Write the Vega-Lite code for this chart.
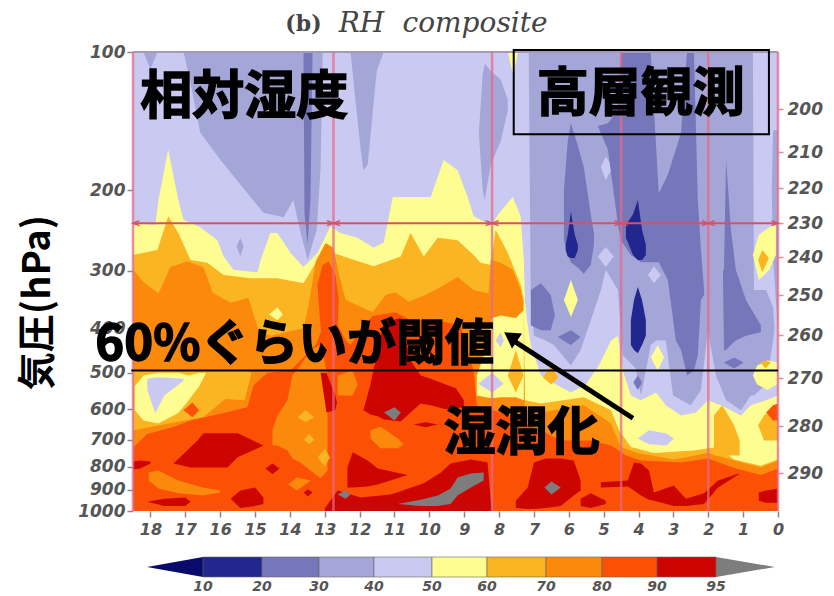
{"$schema":"https://vega.github.io/schema/vega-lite/v6.json","width":645,"height":459,"autosize":"none","padding":{"left":133,"top":52,"right":56,"bottom":85},"background":"white","view":{"stroke":null},"resolve":{"scale":{"x":"independent","y":"independent"},"axis":{"x":"independent","y":"independent"}},
"layer":[
{"layer":[
{"mark":{"type":"area","interpolate":"linear"},
"data":{"values":[
{"s":"base","b":"40","t":18.5,"a":100,"z":1000},{"s":"base","b":"40","t":0,"a":100,"z":1000},
{"s":"b1","b":"30","t":18.2,"a":100,"z":100},{"s":"b1","b":"30","t":18.0,"a":100,"z":109},{"s":"b1","b":"30","t":17.8,"a":100,"z":100},
{"s":"b2","b":"30","t":17.05,"a":100,"z":100},{"s":"b2","b":"30","t":16.85,"a":100,"z":117},{"s":"b2","b":"30","t":16.57,"a":100,"z":150},{"s":"b2","b":"30","t":15.99,"a":100,"z":172},{"s":"b2","b":"30","t":14.76,"a":100,"z":224},{"s":"b2","b":"30","t":14.18,"a":100,"z":229},{"s":"b2","b":"30","t":13.9,"a":100,"z":210},{"s":"b2","b":"30","t":13.7,"a":100,"z":246},{"s":"b2","b":"30","t":13.49,"a":100,"z":284},{"s":"b2","b":"30","t":13.23,"a":100,"z":244},{"s":"b2","b":"30","t":13.12,"a":100,"z":178},{"s":"b2","b":"30","t":13.06,"a":100,"z":100},
{"s":"b3","b":"30","t":15.53,"a":265,"z":265},{"s":"b3","b":"30","t":15.42,"a":254,"z":279},{"s":"b3","b":"30","t":15.33,"a":265,"z":265},
{"s":"b4","b":"30","t":12.26,"a":100,"z":100},{"s":"b4","b":"30","t":12.12,"a":100,"z":127},{"s":"b4","b":"30","t":11.97,"a":100,"z":163},{"s":"b4","b":"30","t":11.89,"a":100,"z":181},{"s":"b4","b":"30","t":11.77,"a":100,"z":176},{"s":"b4","b":"30","t":11.63,"a":100,"z":137},{"s":"b4","b":"30","t":11.51,"a":100,"z":110},{"s":"b4","b":"30","t":11.31,"a":100,"z":100},
{"s":"b5","b":"30","t":8.58,"a":150,"z":150},{"s":"b5","b":"30","t":8.47,"a":112,"z":200},{"s":"b5","b":"30","t":8.41,"a":106,"z":210},{"s":"b5","b":"30","t":8.24,"a":110,"z":176},{"s":"b5","b":"30","t":7.95,"a":115,"z":156},{"s":"b5","b":"30","t":7.75,"a":127,"z":134},
{"s":"block","b":"30","t":7.15,"a":100,"z":100},{"s":"block","b":"30","t":7.09,"a":100,"z":347},{"s":"block","b":"30","t":7.0,"a":100,"z":415},{"s":"block","b":"30","t":6.66,"a":100,"z":425},{"s":"block","b":"30","t":6.43,"a":100,"z":435},{"s":"block","b":"30","t":5.94,"a":100,"z":482},{"s":"block","b":"30","t":5.66,"a":100,"z":446},{"s":"block","b":"30","t":5.37,"a":100,"z":384},{"s":"block","b":"30","t":5.08,"a":100,"z":330},{"s":"block","b":"30","t":4.94,"a":100,"z":298},{"s":"block","b":"30","t":4.59,"a":100,"z":330},{"s":"block","b":"30","t":4.45,"a":100,"z":458},{"s":"block","b":"30","t":4.08,"a":100,"z":489},{"s":"block","b":"30","t":3.93,"a":100,"z":560},{"s":"block","b":"30","t":3.65,"a":100,"z":435},{"s":"block","b":"30","t":3.5,"a":100,"z":425},{"s":"block","b":"30","t":3.22,"a":100,"z":425},{"s":"block","b":"30","t":3.01,"a":100,"z":560},{"s":"block","b":"30","t":2.5,"a":100,"z":588},{"s":"block","b":"30","t":2.21,"a":100,"z":545},{"s":"block","b":"30","t":2.01,"a":100,"z":404},{"s":"block","b":"30","t":1.78,"a":100,"z":507},{"s":"block","b":"30","t":1.49,"a":100,"z":574},{"s":"block","b":"30","t":1.06,"a":100,"z":603},{"s":"block","b":"30","t":0.78,"a":100,"z":560},{"s":"block","b":"30","t":0.72,"a":100,"z":560},{"s":"block","b":"30","t":0.69,"a":330,"z":560},{"s":"block","b":"30","t":0.34,"a":330,"z":530},{"s":"block","b":"30","t":0.14,"a":360,"z":425},{"s":"block","b":"30","t":0.1,"a":400,"z":400},
{"s":"b6","b":"30","t":0.18,"a":200,"z":200},{"s":"b6","b":"30","t":0.14,"a":148,"z":284},{"s":"b6","b":"30","t":0,"a":148,"z":404},
{"s":"l1","b":"40","t":5.08,"a":178,"z":178},{"s":"l1","b":"40","t":4.94,"a":169,"z":190},{"s":"l1","b":"40","t":4.79,"a":176,"z":181},
{"s":"l2","b":"40","t":5.17,"a":279,"z":279},{"s":"l2","b":"40","t":4.94,"a":266,"z":294},{"s":"l2","b":"40","t":4.71,"a":279,"z":279},
{"s":"l3","b":"40","t":3.73,"a":306,"z":306},{"s":"l3","b":"40","t":3.56,"a":293,"z":319},{"s":"l3","b":"40","t":3.36,"a":306,"z":306},
{"s":"d1","b":"20","t":13.61,"a":100,"z":100},{"s":"d1","b":"20","t":13.58,"a":100,"z":226},{"s":"d1","b":"20","t":13.49,"a":100,"z":263},{"s":"d1","b":"20","t":13.41,"a":100,"z":210},{"s":"d1","b":"20","t":13.35,"a":100,"z":100},
{"s":"d2","b":"20","t":6.14,"a":200,"z":257},{"s":"d2","b":"20","t":6.03,"a":156,"z":277},{"s":"d2","b":"20","t":5.94,"a":143,"z":287},{"s":"d2","b":"20","t":5.74,"a":160,"z":295},{"s":"d2","b":"20","t":5.57,"a":178,"z":304},{"s":"d2","b":"20","t":5.37,"a":226,"z":291},{"s":"d2","b":"20","t":5.28,"a":248,"z":263},
{"s":"d3","b":"20","t":5.17,"a":145,"z":145},{"s":"d3","b":"20","t":4.88,"a":143,"z":163},{"s":"d3","b":"20","t":4.59,"a":134,"z":238},{"s":"d3","b":"20","t":4.51,"a":100,"z":257},{"s":"d3","b":"20","t":4.22,"a":100,"z":277},{"s":"d3","b":"20","t":3.93,"a":100,"z":287},{"s":"d3","b":"20","t":3.65,"a":100,"z":287},{"s":"d3","b":"20","t":3.53,"a":145,"z":287},{"s":"d3","b":"20","t":3.42,"a":203,"z":287},{"s":"d3","b":"20","t":3.16,"a":185,"z":314},{"s":"d3","b":"20","t":2.93,"a":163,"z":425},{"s":"d3","b":"20","t":2.78,"a":150,"z":446},{"s":"d3","b":"20","t":2.61,"a":100,"z":507},{"s":"d3","b":"20","t":2.41,"a":100,"z":494},{"s":"d3","b":"20","t":2.3,"a":210,"z":458},{"s":"d3","b":"20","t":2.21,"a":270,"z":347},{"s":"d3","b":"20","t":2.12,"a":330,"z":338},
{"s":"d4","b":"20","t":1.58,"a":300,"z":300},{"s":"d4","b":"20","t":1.55,"a":298,"z":446},{"s":"d4","b":"20","t":1.49,"a":172,"z":446},{"s":"d4","b":"20","t":1.35,"a":244,"z":435},{"s":"d4","b":"20","t":1.21,"a":298,"z":425},{"s":"d4","b":"20","t":0.92,"a":347,"z":415},{"s":"d4","b":"20","t":0.49,"a":394,"z":408},
{"s":"d5","b":"20","t":1.55,"a":475,"z":475},{"s":"d5","b":"20","t":1.26,"a":463,"z":489},{"s":"d5","b":"20","t":0.98,"a":475,"z":475},
{"s":"d6","b":"20","t":7.09,"a":330,"z":394},{"s":"d6","b":"20","t":6.8,"a":319,"z":404},{"s":"d6","b":"20","t":6.52,"a":338,"z":404},{"s":"d6","b":"20","t":6.4,"a":375,"z":375},
{"s":"d7","b":"20","t":6.32,"a":418,"z":418},{"s":"d7","b":"20","t":5.94,"a":404,"z":435},{"s":"d7","b":"20","t":5.66,"a":418,"z":418},
{"s":"d8","b":"20","t":4.15,"a":525,"z":525},{"s":"d8","b":"20","t":4.02,"a":507,"z":545},{"s":"d8","b":"20","t":3.9,"a":525,"z":525},
{"s":"n1","b":"10","t":6.09,"a":263,"z":270},{"s":"n1","b":"10","t":6.03,"a":250,"z":279},{"s":"n1","b":"10","t":5.94,"a":223,"z":281},{"s":"n1","b":"10","t":5.83,"a":250,"z":281},{"s":"n1","b":"10","t":5.74,"a":263,"z":270},
{"s":"n2","b":"10","t":4.36,"a":238,"z":254},{"s":"n2","b":"10","t":4.16,"a":226,"z":277},{"s":"n2","b":"10","t":4.02,"a":210,"z":284},{"s":"n2","b":"10","t":3.9,"a":244,"z":284},{"s":"n2","b":"10","t":3.79,"a":263,"z":277},
{"s":"n3","b":"10","t":4.22,"a":384,"z":435},{"s":"n3","b":"10","t":4.13,"a":347,"z":446},{"s":"n3","b":"10","t":4.02,"a":325,"z":453},{"s":"n3","b":"10","t":3.9,"a":347,"z":435},{"s":"n3","b":"10","t":3.79,"a":384,"z":415},
{"s":"yt","b":"50","t":7.75,"a":100,"z":100},{"s":"yt","b":"50","t":7.6,"a":100,"z":112},{"s":"yt","b":"50","t":7.45,"a":100,"z":100},
{"s":"y","b":"50","t":18.5,"a":236,"z":1000},{"s":"y","b":"50","t":17.86,"a":238,"z":1000},{"s":"y","b":"50","t":17.77,"a":210,"z":1000},{"s":"y","b":"50","t":17.49,"a":163,"z":1000},{"s":"y","b":"50","t":17.2,"a":210,"z":1000},{"s":"y","b":"50","t":17.05,"a":232,"z":1000},{"s":"y","b":"50","t":16.57,"a":241,"z":1000},{"s":"y","b":"50","t":16.08,"a":257,"z":1000},{"s":"y","b":"50","t":15.9,"a":279,"z":1000},{"s":"y","b":"50","t":15.62,"a":298,"z":1000},{"s":"y","b":"50","t":14.93,"a":302,"z":1000},{"s":"y","b":"50","t":14.84,"a":284,"z":1000},{"s":"y","b":"50","t":14.56,"a":248,"z":1000},{"s":"y","b":"50","t":14.36,"a":248,"z":1000},{"s":"y","b":"50","t":13.98,"a":274,"z":1000},{"s":"y","b":"50","t":13.61,"a":294,"z":1000},{"s":"y","b":"50","t":13.41,"a":284,"z":1000},{"s":"y","b":"50","t":13.21,"a":274,"z":1000},{"s":"y","b":"50","t":12.84,"a":240,"z":1000},{"s":"y","b":"50","t":12.55,"a":248,"z":1000},{"s":"y","b":"50","t":12.06,"a":254,"z":1000},{"s":"y","b":"50","t":11.6,"a":267,"z":1000},{"s":"y","b":"50","t":11.31,"a":260,"z":1000},{"s":"y","b":"50","t":11.05,"a":207,"z":1000},{"s":"y","b":"50","t":9.96,"a":207,"z":1000},{"s":"y","b":"50","t":9.59,"a":172,"z":1000},{"s":"y","b":"50","t":9.19,"a":181,"z":1000},{"s":"y","b":"50","t":8.9,"a":207,"z":1000},{"s":"y","b":"50","t":8.73,"a":228,"z":1000},{"s":"y","b":"50","t":8.44,"a":234,"z":1000},{"s":"y","b":"50","t":8.21,"a":238,"z":1000},{"s":"y","b":"50","t":8.01,"a":225,"z":1000},{"s":"y","b":"50","t":7.61,"a":207,"z":1000},{"s":"y","b":"50","t":7.38,"a":228,"z":1000},{"s":"y","b":"50","t":7.29,"a":284,"z":1000},{"s":"y","b":"50","t":7.26,"a":347,"z":1000},{"s":"y","b":"50","t":7.2,"a":384,"z":1000},{"s":"y","b":"50","t":7.09,"a":435,"z":1000},{"s":"y","b":"50","t":6.8,"a":507,"z":1000},{"s":"y","b":"50","t":6.37,"a":530,"z":1000},{"s":"y","b":"50","t":5.94,"a":552,"z":1000},{"s":"y","b":"50","t":5.51,"a":530,"z":1000},{"s":"y","b":"50","t":5.14,"a":482,"z":1000},{"s":"y","b":"50","t":4.79,"a":425,"z":1000},{"s":"y","b":"50","t":4.59,"a":415,"z":1000},{"s":"y","b":"50","t":4.45,"a":494,"z":1000},{"s":"y","b":"50","t":4.22,"a":560,"z":1000},{"s":"y","b":"50","t":3.93,"a":574,"z":1000},{"s":"y","b":"50","t":3.5,"a":552,"z":1000},{"s":"y","b":"50","t":3.22,"a":588,"z":1000},{"s":"y","b":"50","t":2.78,"a":619,"z":1000},{"s":"y","b":"50","t":2.35,"a":610,"z":1000},{"s":"y","b":"50","t":2.01,"a":574,"z":1000},{"s":"y","b":"50","t":1.64,"a":588,"z":1000},{"s":"y","b":"50","t":1.06,"a":619,"z":1000},{"s":"y","b":"50","t":0.78,"a":588,"z":1000},{"s":"y","b":"50","t":0.34,"a":574,"z":1000},{"s":"y","b":"50","t":0,"a":560,"z":1000},
{"s":"o","b":"60","t":18.5,"a":277,"z":1000},{"s":"o","b":"60","t":17.8,"a":270,"z":1000},{"s":"o","b":"60","t":17.49,"a":228,"z":1000},{"s":"o","b":"60","t":17.2,"a":248,"z":1000},{"s":"o","b":"60","t":16.85,"a":284,"z":1000},{"s":"o","b":"60","t":16.37,"a":288,"z":1000},{"s":"o","b":"60","t":15.9,"a":306,"z":1000},{"s":"o","b":"60","t":15.13,"a":311,"z":1000},{"s":"o","b":"60","t":14.36,"a":311,"z":1000},{"s":"o","b":"60","t":13.61,"a":319,"z":1000},{"s":"o","b":"60","t":13.21,"a":284,"z":1000},{"s":"o","b":"60","t":12.92,"a":261,"z":1000},{"s":"o","b":"60","t":12.75,"a":274,"z":1000},{"s":"o","b":"60","t":12.46,"a":279,"z":1000},{"s":"o","b":"60","t":11.6,"a":293,"z":1000},{"s":"o","b":"60","t":10.82,"a":279,"z":1000},{"s":"o","b":"60","t":10.54,"a":248,"z":1000},{"s":"o","b":"60","t":10.16,"a":279,"z":1000},{"s":"o","b":"60","t":9.76,"a":254,"z":1000},{"s":"o","b":"60","t":9.19,"a":257,"z":1000},{"s":"o","b":"60","t":8.73,"a":277,"z":1000},{"s":"o","b":"60","t":8.53,"a":288,"z":1000},{"s":"o","b":"60","t":8.24,"a":291,"z":1000},{"s":"o","b":"60","t":8.1,"a":244,"z":1000},{"s":"o","b":"60","t":7.75,"a":274,"z":1000},{"s":"o","b":"60","t":7.38,"a":322,"z":1000},{"s":"o","b":"60","t":7.29,"a":347,"z":1000},{"s":"o","b":"60","t":7.26,"a":574,"z":1000},{"s":"o","b":"60","t":6.8,"a":583,"z":1000},{"s":"o","b":"60","t":5.57,"a":565,"z":1000},{"s":"o","b":"60","t":4.79,"a":603,"z":1000},{"s":"o","b":"60","t":4.56,"a":667,"z":1000},{"s":"o","b":"60","t":4.22,"a":725,"z":1000},{"s":"o","b":"60","t":3.56,"a":748,"z":1000},{"s":"o","b":"60","t":2.41,"a":738,"z":1000},{"s":"o","b":"60","t":1.72,"a":725,"z":1000},{"s":"o","b":"60","t":1.26,"a":772,"z":1000},{"s":"o","b":"60","t":0.49,"a":797,"z":1000},{"s":"o","b":"60","t":0,"a":772,"z":1000},
{"s":"p","b":"70","t":18.5,"a":298,"z":1000},{"s":"p","b":"70","t":18.2,"a":317,"z":1000},{"s":"p","b":"70","t":17.77,"a":336,"z":1000},{"s":"p","b":"70","t":17.43,"a":294,"z":1000},{"s":"p","b":"70","t":16.94,"a":286,"z":1000},{"s":"p","b":"70","t":16.48,"a":294,"z":1000},{"s":"p","b":"70","t":16.22,"a":334,"z":1000},{"s":"p","b":"70","t":15.7,"a":352,"z":1000},{"s":"p","b":"70","t":15.19,"a":343,"z":1000},{"s":"p","b":"70","t":14.9,"a":404,"z":1000},{"s":"p","b":"70","t":14.56,"a":415,"z":1000},{"s":"p","b":"70","t":13.61,"a":400,"z":1000},{"s":"p","b":"70","t":13.46,"a":356,"z":1000},{"s":"p","b":"70","t":13.26,"a":286,"z":1000},{"s":"p","b":"70","t":12.98,"a":261,"z":1000},{"s":"p","b":"70","t":12.75,"a":267,"z":1000},{"s":"p","b":"70","t":12.6,"a":303,"z":1000},{"s":"p","b":"70","t":12.4,"a":347,"z":1000},{"s":"p","b":"70","t":11.63,"a":369,"z":1000},{"s":"p","b":"70","t":11.25,"a":338,"z":1000},{"s":"p","b":"70","t":10.97,"a":334,"z":1000},{"s":"p","b":"70","t":10.59,"a":350,"z":1000},{"s":"p","b":"70","t":10.11,"a":338,"z":1000},{"s":"p","b":"70","t":9.67,"a":325,"z":1000},{"s":"p","b":"70","t":9.19,"a":309,"z":1000},{"s":"p","b":"70","t":8.73,"a":330,"z":1000},{"s":"p","b":"70","t":8.3,"a":336,"z":1000},{"s":"p","b":"70","t":8.24,"a":284,"z":1000},{"s":"p","b":"70","t":7.95,"a":288,"z":1000},{"s":"p","b":"70","t":7.61,"a":298,"z":1000},{"s":"p","b":"70","t":7.38,"a":330,"z":1000},{"s":"p","b":"70","t":7.32,"a":347,"z":1000},{"s":"p","b":"70","t":7.26,"a":603,"z":1000},{"s":"p","b":"70","t":6.8,"a":610,"z":1000},{"s":"p","b":"70","t":5.57,"a":588,"z":1000},{"s":"p","b":"70","t":4.79,"a":645,"z":1000},{"s":"p","b":"70","t":4.51,"a":725,"z":1000},{"s":"p","b":"70","t":4.02,"a":748,"z":1000},{"s":"p","b":"70","t":2.99,"a":772,"z":1000},{"s":"p","b":"70","t":2.01,"a":748,"z":1000},{"s":"p","b":"70","t":1.26,"a":776,"z":1000},{"s":"p","b":"70","t":0.49,"a":804,"z":1000},{"s":"p","b":"70","t":0,"a":776,"z":1000},
{"s":"q","b":"80","t":18.5,"a":727,"z":1000},{"s":"q","b":"80","t":18.09,"a":680,"z":1000},{"s":"q","b":"80","t":17.34,"a":656,"z":1000},{"s":"q","b":"80","t":16.85,"a":635,"z":1000},{"s":"q","b":"80","t":15.9,"a":612,"z":1000},{"s":"q","b":"80","t":15.22,"a":594,"z":1000},{"s":"q","b":"80","t":15.04,"a":532,"z":1000},{"s":"q","b":"80","t":14.64,"a":500,"z":1000},{"s":"q","b":"80","t":13.98,"a":494,"z":1000},{"s":"q","b":"80","t":13.7,"a":470,"z":1000},{"s":"q","b":"80","t":13.26,"a":435,"z":1000},{"s":"q","b":"80","t":12.98,"a":384,"z":1000},{"s":"q","b":"80","t":12.69,"a":384,"z":1000},{"s":"q","b":"80","t":12.4,"a":425,"z":1000},{"s":"q","b":"80","t":12.26,"a":435,"z":1000},{"s":"q","b":"80","t":11.97,"a":404,"z":1000},{"s":"q","b":"80","t":11.63,"a":376,"z":1000},{"s":"q","b":"80","t":10.97,"a":369,"z":1000},{"s":"q","b":"80","t":10.54,"a":384,"z":1000},{"s":"q","b":"80","t":9.96,"a":384,"z":1000},{"s":"q","b":"80","t":9.53,"a":388,"z":1000},{"s":"q","b":"80","t":9.1,"a":394,"z":1000},{"s":"q","b":"80","t":8.73,"a":494,"z":1000},{"s":"q","b":"80","t":8.64,"a":588,"z":1000},{"s":"q","b":"80","t":7.67,"a":619,"z":1000},{"s":"q","b":"80","t":7.09,"a":650,"z":1000},{"s":"q","b":"80","t":6.23,"a":702,"z":1000},{"s":"q","b":"80","t":5.37,"a":702,"z":1000},{"s":"q","b":"80","t":4.79,"a":720,"z":1000},{"s":"q","b":"80","t":4.36,"a":757,"z":1000},{"s":"q","b":"80","t":3.93,"a":776,"z":1000},{"s":"q","b":"80","t":2.78,"a":784,"z":1000},{"s":"q","b":"80","t":2.01,"a":768,"z":1000},{"s":"q","b":"80","t":1.21,"a":808,"z":1000},{"s":"q","b":"80","t":0.49,"a":835,"z":1000},{"s":"q","b":"80","t":0,"a":808,"z":1000},
{"s":"r1","b":"80","t":13.21,"a":322,"z":322},{"s":"r1","b":"80","t":13.06,"a":291,"z":458},{"s":"r1","b":"80","t":12.89,"a":286,"z":494},{"s":"r1","b":"80","t":12.69,"a":306,"z":494},{"s":"r1","b":"80","t":12.6,"a":347,"z":347},
{"s":"o2","b":"60","t":18.5,"a":494,"z":667},{"s":"o2","b":"60","t":16.48,"a":494,"z":624},{"s":"o2","b":"60","t":15.85,"a":494,"z":570},{"s":"o2","b":"60","t":15.3,"a":494,"z":574},{"s":"o2","b":"60","t":15.1,"a":500,"z":500},
{"s":"y2","b":"50","t":18.45,"a":535,"z":603},{"s":"y2","b":"50","t":18.2,"a":507,"z":635},{"s":"y2","b":"50","t":17.77,"a":500,"z":645},{"s":"y2","b":"50","t":17.2,"a":500,"z":612},{"s":"y2","b":"50","t":16.9,"a":507,"z":574},{"s":"y2","b":"50","t":16.6,"a":500,"z":535},{"s":"y2","b":"50","t":16.4,"a":500,"z":500},
{"s":"l4","b":"40","t":18.09,"a":515,"z":545},{"s":"l4","b":"40","t":17.86,"a":512,"z":612},{"s":"l4","b":"40","t":17.6,"a":512,"z":560},{"s":"l4","b":"40","t":17.05,"a":515,"z":520},
{"s":"p2","b":"70","t":14.5,"a":667,"z":720},{"s":"p2","b":"70","t":14.36,"a":619,"z":720},{"s":"p2","b":"70","t":14.07,"a":574,"z":738},{"s":"p2","b":"70","t":13.93,"a":507,"z":768},{"s":"p2","b":"70","t":13.7,"a":482,"z":784},{"s":"p2","b":"70","t":13.41,"a":446,"z":816},{"s":"p2","b":"70","t":13.12,"a":435,"z":849},{"s":"p2","b":"70","t":12.92,"a":507,"z":816},
{"s":"o5","b":"60","t":13.78,"a":625,"z":625},{"s":"o5","b":"60","t":13.55,"a":603,"z":640},{"s":"o5","b":"60","t":13.3,"a":625,"z":625},
{"s":"o6","b":"60","t":13.6,"a":700,"z":700},{"s":"o6","b":"60","t":13.45,"a":680,"z":715},{"s":"o6","b":"60","t":13.3,"a":700,"z":700},
{"s":"o7b","b":"60","t":13.2,"a":765,"z":765},{"s":"o7b","b":"60","t":13.0,"a":730,"z":800},{"s":"o7b","b":"60","t":12.85,"a":765,"z":765},
{"s":"y4","b":"50","t":14.6,"a":373,"z":373},{"s":"y4","b":"50","t":14.36,"a":360,"z":384},{"s":"y4","b":"50","t":14.2,"a":373,"z":373},
{"s":"p3","b":"80","t":17.05,"a":603,"z":603},{"s":"p3","b":"80","t":16.8,"a":580,"z":625},{"s":"p3","b":"80","t":16.6,"a":603,"z":603},
{"s":"p4","b":"70","t":11.69,"a":667,"z":695},{"s":"p4","b":"70","t":11.4,"a":655,"z":730},{"s":"p4","b":"70","t":10.9,"a":695,"z":730},{"s":"p4","b":"70","t":10.74,"a":715,"z":715},
{"s":"p6","b":"70","t":12.63,"a":507,"z":560},{"s":"p6","b":"70","t":12.2,"a":494,"z":560},{"s":"p6","b":"70","t":12.06,"a":530,"z":530},
{"s":"p5","b":"70","t":18.05,"a":824,"z":858},{"s":"p5","b":"70","t":17.77,"a":816,"z":893},{"s":"p5","b":"70","t":17.2,"a":858,"z":915},{"s":"p5","b":"70","t":16.5,"a":889,"z":925},{"s":"p5","b":"70","t":16.0,"a":902,"z":911},
{"s":"p7","b":"70","t":14.05,"a":875,"z":875},{"s":"p7","b":"70","t":13.8,"a":845,"z":902},{"s":"p7","b":"70","t":13.4,"a":858,"z":858},
{"s":"y5","b":"50","t":6.14,"a":347,"z":347},{"s":"y5","b":"50","t":5.94,"a":314,"z":378},{"s":"y5","b":"50","t":5.74,"a":347,"z":347},
{"s":"y6","b":"50","t":3.65,"a":463,"z":463},{"s":"y6","b":"50","t":3.45,"a":435,"z":494},{"s":"y6","b":"50","t":3.27,"a":463,"z":463},
{"s":"y7","b":"50","t":0.72,"a":277,"z":277},{"s":"y7","b":"50","t":0.55,"a":250,"z":314},{"s":"y7","b":"50","t":0.25,"a":241,"z":298},{"s":"y7","b":"50","t":0.06,"a":236,"z":277},
{"s":"o7","b":"60","t":0.57,"a":284,"z":284},{"s":"o7","b":"60","t":0.45,"a":270,"z":302},{"s":"o7","b":"60","t":0.26,"a":281,"z":281},
{"s":"y8","b":"50","t":0.72,"a":507,"z":507},{"s":"y8","b":"50","t":0.6,"a":482,"z":530},{"s":"y8","b":"50","t":0.3,"a":470,"z":545},{"s":"y8","b":"50","t":0.03,"a":475,"z":530},
{"s":"o12","b":"60","t":0.5,"a":475,"z":475},{"s":"o12","b":"60","t":0.36,"a":470,"z":489},{"s":"o12","b":"60","t":0.2,"a":475,"z":475},
{"s":"yi","b":"50","t":8.64,"a":507,"z":560},{"s":"yi","b":"50","t":8.38,"a":446,"z":565},{"s":"yi","b":"50","t":8.21,"a":380,"z":568},{"s":"yi","b":"50","t":7.95,"a":375,"z":565},{"s":"yi","b":"50","t":7.52,"a":380,"z":565},{"s":"yi","b":"50","t":7.29,"a":365,"z":574},
{"s":"o8","b":"60","t":7.75,"a":507,"z":507},{"s":"o8","b":"60","t":7.52,"a":446,"z":552},{"s":"o8","b":"60","t":7.3,"a":507,"z":507},
{"s":"l5","b":"40","t":8.6,"a":528,"z":528},{"s":"l5","b":"40","t":8.2,"a":500,"z":552},{"s":"l5","b":"40","t":7.87,"a":528,"z":528},
{"s":"l6","b":"40","t":8.1,"a":425,"z":425},{"s":"l6","b":"40","t":7.95,"a":408,"z":440},{"s":"l6","b":"40","t":7.87,"a":425,"z":425},
{"s":"o9","b":"60","t":6.75,"a":512,"z":512},{"s":"o9","b":"60","t":6.5,"a":482,"z":530},{"s":"o9","b":"60","t":6.3,"a":512,"z":512},
{"s":"l7","b":"40","t":4.02,"a":695,"z":695},{"s":"l7","b":"40","t":3.7,"a":667,"z":715},{"s":"l7","b":"40","t":3.2,"a":678,"z":720},{"s":"l7","b":"40","t":2.99,"a":695,"z":695},
{"s":"o10","b":"60","t":1.84,"a":619,"z":757},{"s":"o10","b":"60","t":1.6,"a":588,"z":757},{"s":"o10","b":"60","t":1.26,"a":650,"z":757},{"s":"o10","b":"60","t":1.1,"a":702,"z":757},
{"s":"o11","b":"60","t":0.57,"a":650,"z":650},{"s":"o11","b":"60","t":0.4,"a":619,"z":702},{"s":"o11","b":"60","t":0,"a":588,"z":702},
{"s":"p8","b":"80","t":0.34,"a":610,"z":610},{"s":"p8","b":"80","t":0.14,"a":588,"z":635},{"s":"p8","b":"80","t":0,"a":583,"z":635},
{"s":"f1","b":"90","t":18.5,"a":780,"z":812},{"s":"f1","b":"90","t":18.29,"a":776,"z":808},{"s":"f1","b":"90","t":18.0,"a":780,"z":788},
{"s":"f2","b":"90","t":17.34,"a":788,"z":788},{"s":"f2","b":"90","t":16.85,"a":726,"z":804},{"s":"f2","b":"90","t":16.65,"a":702,"z":804},{"s":"f2","b":"90","t":16.48,"a":677,"z":804},{"s":"f2","b":"90","t":15.79,"a":677,"z":804},{"s":"f2","b":"90","t":15.5,"a":677,"z":764},{"s":"f2","b":"90","t":15.13,"a":698,"z":742},{"s":"f2","b":"90","t":14.76,"a":720,"z":720},
{"s":"f3","b":"90","t":14.7,"a":808,"z":808},{"s":"f3","b":"90","t":14.5,"a":788,"z":832},{"s":"f3","b":"90","t":14.3,"a":808,"z":808},
{"s":"f4","b":"90","t":15.7,"a":940,"z":940},{"s":"f4","b":"90","t":15.42,"a":902,"z":985},{"s":"f4","b":"90","t":15.0,"a":889,"z":975},{"s":"f4","b":"90","t":14.76,"a":935,"z":965},
{"s":"f5","b":"90","t":18.09,"a":955,"z":955},{"s":"f5","b":"90","t":17.6,"a":940,"z":975},{"s":"f5","b":"90","t":17.0,"a":935,"z":975},{"s":"f5","b":"90","t":16.85,"a":955,"z":955},
{"s":"f6","b":"90","t":13.6,"a":911,"z":911},{"s":"f6","b":"90","t":13.49,"a":897,"z":930},{"s":"f6","b":"90","t":13.35,"a":911,"z":911},
{"s":"f7","b":"90","t":13.12,"a":500,"z":500},{"s":"f7","b":"90","t":12.95,"a":500,"z":610},{"s":"f7","b":"90","t":12.7,"a":560,"z":603},{"s":"f7","b":"90","t":12.65,"a":580,"z":580},
{"s":"f8","b":"90","t":11.89,"a":603,"z":603},{"s":"f8","b":"90","t":11.69,"a":530,"z":616},{"s":"f8","b":"90","t":11.48,"a":446,"z":622},{"s":"f8","b":"90","t":11.31,"a":388,"z":632},{"s":"f8","b":"90","t":10.82,"a":380,"z":638},{"s":"f8","b":"90","t":10.54,"a":470,"z":610},{"s":"f8","b":"90","t":10.25,"a":507,"z":583},{"s":"f8","b":"90","t":9.96,"a":515,"z":588},{"s":"f8","b":"90","t":9.53,"a":530,"z":600},{"s":"f8","b":"90","t":9.24,"a":540,"z":597},{"s":"f8","b":"90","t":9.01,"a":574,"z":594},
{"s":"f9","b":"90","t":10.45,"a":648,"z":648},{"s":"f9","b":"90","t":10.1,"a":641,"z":657},{"s":"f9","b":"90","t":9.76,"a":648,"z":648},
{"s":"f10","b":"90","t":12.35,"a":804,"z":889},{"s":"f10","b":"90","t":12.2,"a":745,"z":889},{"s":"f10","b":"90","t":11.77,"a":776,"z":884},{"s":"f10","b":"90","t":11.48,"a":808,"z":875},{"s":"f10","b":"90","t":10.62,"a":835,"z":835},
{"s":"f11","b":"90","t":13.0,"a":988,"z":1000},{"s":"f11","b":"90","t":12.63,"a":902,"z":1000},{"s":"f11","b":"90","t":11.97,"a":935,"z":1000},{"s":"f11","b":"90","t":11.11,"a":920,"z":1000},{"s":"f11","b":"90","t":10.16,"a":870,"z":1000},{"s":"f11","b":"90","t":9.67,"a":824,"z":1000},{"s":"f11","b":"90","t":9.39,"a":788,"z":1000},{"s":"f11","b":"90","t":8.81,"a":772,"z":1000},{"s":"f11","b":"90","t":8.33,"a":784,"z":1000},{"s":"f11","b":"90","t":8.24,"a":950,"z":1000},{"s":"f11","b":"90","t":8.2,"a":1000,"z":1000},
{"s":"q2","b":"80","t":11.97,"a":906,"z":906},{"s":"q2","b":"80","t":11.2,"a":893,"z":920},{"s":"q2","b":"80","t":10.82,"a":906,"z":906},
{"s":"f12","b":"90","t":7.52,"a":950,"z":985},{"s":"f12","b":"90","t":7.18,"a":889,"z":990},{"s":"f12","b":"90","t":7.0,"a":784,"z":990},{"s":"f12","b":"90","t":6.66,"a":768,"z":985},{"s":"f12","b":"90","t":6.23,"a":768,"z":975},{"s":"f12","b":"90","t":5.86,"a":776,"z":925},{"s":"f12","b":"90","t":5.66,"a":858,"z":902},
{"s":"f13","b":"90","t":5.66,"a":940,"z":975},{"s":"f13","b":"90","t":5.37,"a":915,"z":985},{"s":"f13","b":"90","t":4.94,"a":950,"z":965},
{"s":"f14","b":"90","t":5.08,"a":866,"z":889},{"s":"f14","b":"90","t":4.31,"a":858,"z":884},{"s":"f14","b":"90","t":4.13,"a":784,"z":902},{"s":"f14","b":"90","t":3.93,"a":788,"z":925},{"s":"f14","b":"90","t":3.7,"a":816,"z":945},{"s":"f14","b":"90","t":3.56,"a":911,"z":950},{"s":"f14","b":"90","t":2.99,"a":880,"z":975},{"s":"f14","b":"90","t":2.64,"a":940,"z":975},{"s":"f14","b":"90","t":2.12,"a":915,"z":965},{"s":"f14","b":"90","t":1.72,"a":858,"z":889},{"s":"f14","b":"90","t":1.12,"a":828,"z":832},
{"s":"f15","b":"90","t":0.55,"a":911,"z":950},{"s":"f15","b":"90","t":0.34,"a":902,"z":960},{"s":"f15","b":"90","t":0,"a":893,"z":960},
{"s":"g1","b":"95","t":11.3,"a":610,"z":610},{"s":"g1","b":"95","t":11.0,"a":594,"z":635},{"s":"g1","b":"95","t":10.82,"a":610,"z":610},
{"s":"g2","b":"95","t":10.91,"a":965,"z":965},{"s":"g2","b":"95","t":10.25,"a":945,"z":975},{"s":"g2","b":"95","t":9.76,"a":925,"z":975},{"s":"g2","b":"95","t":9.39,"a":893,"z":965},{"s":"g2","b":"95","t":9.19,"a":845,"z":925},{"s":"g2","b":"95","t":8.81,"a":828,"z":889},{"s":"g2","b":"95","t":8.44,"a":824,"z":858},
{"s":"g3","b":"95","t":12.63,"a":920,"z":920},{"s":"g3","b":"95","t":12.4,"a":902,"z":940},{"s":"g3","b":"95","t":12.26,"a":920,"z":920},
{"s":"g4","b":"95","t":6.7,"a":889,"z":889},{"s":"g4","b":"95","t":6.5,"a":862,"z":920},{"s":"g4","b":"95","t":6.23,"a":889,"z":889}
]},
"encoding":{
"x":{"field":"t","type":"quantitative","scale":{"domain":[18.5,0],"nice":false,"zero":false},"axis":null},
"y":{"field":"a","type":"quantitative","stack":null,"scale":{"type":"log","domain":[100,1000],"nice":false,"reverse":true},"axis":null},
"y2":{"field":"z"},
"detail":{"field":"s"},
"color":{"field":"b","type":"nominal","legend":null,"scale":{"domain":["10","20","30","40","50","60","70","80","90","95"],"range":["#22268f","#7676bb","#a5a6d8","#c9c9f2","#fdfd92","#fbb422","#fb8a0c","#fc5005","#cc0500","#7d7d7d"]}}
}},
{"mark":{"type":"rule","stroke":"#a898b8","strokeWidth":2},"data":{"values":[{"t":18.5,"t2":0,"p":100}]},"encoding":{"x":{"field":"t","type":"quantitative","axis":null},"x2":{"field":"t2"},"y":{"field":"p","type":"quantitative","axis":null}}},
{"mark":{"type":"rule","stroke":"#e56a88","strokeWidth":2.5,"opacity":0.75},"data":{"values":[{"t":18.5},{"t":12.75},{"t":8.2},{"t":4.5},{"t":2},{"t":0}]},"encoding":{"x":{"field":"t","type":"quantitative","axis":null}}},
{"mark":{"type":"rule","stroke":"#d85068","strokeWidth":2},"data":{"values":[{"t":18.5,"t2":0,"p":236}]},"encoding":{"x":{"field":"t","type":"quantitative","axis":null},"x2":{"field":"t2"},"y":{"field":"p","type":"quantitative","axis":null}}},
{"mark":{"type":"point","shape":"M-1.3,-0.5L0,0L-1.3,0.5","filled":false,"stroke":"#d85068","strokeWidth":1.5,"size":100,"opacity":1},"data":{"values":[{"t":12.75,"p":236},{"t":8.2,"p":236},{"t":4.5,"p":236},{"t":2,"p":236},{"t":0,"p":236}]},"encoding":{"x":{"field":"t","type":"quantitative","axis":null},"y":{"field":"p","type":"quantitative","axis":null}}},
{"mark":{"type":"point","shape":"M1.3,-0.5L0,0L1.3,0.5","filled":false,"stroke":"#d85068","strokeWidth":1.5,"size":100,"opacity":1},"data":{"values":[{"t":18.5,"p":236},{"t":12.75,"p":236},{"t":8.2,"p":236},{"t":4.5,"p":236},{"t":2,"p":236}]},"encoding":{"x":{"field":"t","type":"quantitative","axis":null},"y":{"field":"p","type":"quantitative","axis":null}}},
{"mark":{"type":"rule","stroke":"#000000","strokeWidth":2},"data":{"values":[{"t":18.55,"t2":0,"p":494}]},"encoding":{"x":{"field":"t","type":"quantitative","axis":null},"x2":{"field":"t2"},"y":{"field":"p","type":"quantitative","axis":null}}},
{"mark":{"type":"rect","fill":null,"stroke":"#000000","strokeWidth":2,"filled":false},"data":{"values":[{"t":7.58,"t2":0.26,"p":99,"p2":151}]},"encoding":{"x":{"field":"t","type":"quantitative","axis":null},"x2":{"field":"t2"},"y":{"field":"p","type":"quantitative","axis":null},"y2":{"field":"p2"}}},
{"mark":{"type":"line","stroke":"#000000","strokeWidth":5},"data":{"values":[{"t":4.16,"p":628,"id":1},{"t":7.6,"p":425,"id":2}]},"encoding":{"x":{"field":"t","type":"quantitative","axis":null},"y":{"field":"p","type":"quantitative","axis":null},"order":{"field":"id"}}},
{"mark":{"type":"point","shape":"triangle-up","filled":true,"fill":"#000000","stroke":null,"size":320,"angle":304,"opacity":1},"data":{"values":[{"t":7.67,"p":417}]},"encoding":{"x":{"field":"t","type":"quantitative","axis":null},"y":{"field":"p","type":"quantitative","axis":null}}},
{"mark":{"type":"text","align":"left","baseline":"middle","font":"Noto Sans CJK JP","fontWeight":"bold","fontSize":52,"fill":"#000000","stroke":"#000000","strokeWidth":1.5},"data":{"values":[{"t":18.29,"p":126,"label":"相対湿度"},{"t":6.92,"p":124,"label":"高層観測"},{"t":9.59,"p":680,"label":"湿潤化"}]},"encoding":{"x":{"field":"t","type":"quantitative","axis":null},"y":{"field":"p","type":"quantitative","axis":null},"text":{"field":"label"}}},
{"mark":{"type":"text","align":"left","baseline":"middle","font":"Noto Sans CJK JP","fontWeight":"bold","fontSize":49,"fill":"#000000","stroke":"#000000","strokeWidth":1.5},"data":{"values":[{"t":19.58,"p":435,"label":"60%ぐらいが閾値"}]},"encoding":{"x":{"field":"t","type":"quantitative","axis":null},"y":{"field":"p","type":"quantitative","axis":null},"text":{"field":"label"}}},
{"mark":{"type":"text","align":"left","baseline":"middle","font":"DejaVu Serif","fontWeight":"bold","fontSize":22,"fill":"#444444"},"data":{"values":[{"t":14.13,"p":87,"label":"(b)"}]},"encoding":{"x":{"field":"t","type":"quantitative","axis":null},"y":{"field":"p","type":"quantitative","axis":null},"text":{"field":"label"}}},
{"mark":{"type":"text","align":"left","baseline":"middle","font":"DejaVu Serif","fontStyle":"italic","fontSize":28,"fill":"#444444"},"data":{"values":[{"t":12.6,"p":87,"label":"RH"},{"t":10.77,"p":87,"label":"composite"}]},"encoding":{"x":{"field":"t","type":"quantitative","axis":null},"y":{"field":"p","type":"quantitative","axis":null},"text":{"field":"label"}}}
]},
{"mark":{"type":"point","opacity":0},"data":{"values":[{"t":18},{"t":17},{"t":16},{"t":15},{"t":14},{"t":13},{"t":12},{"t":11},{"t":10},{"t":9},{"t":8},{"t":7},{"t":6},{"t":5},{"t":4},{"t":3},{"t":2},{"t":1},{"t":0}]},
"encoding":{"x":{"field":"t","type":"quantitative","scale":{"domain":[18.5,0],"nice":false,"zero":false},"axis":{"title":null,"orient":"bottom","values":[18,17,16,15,14,13,12,11,10,9,8,7,6,5,4,3,2,1,0],"grid":false,"domain":false,"tickColor":"#888888","tickSize":6,"tickWidth":1.5,"labelFont":"DejaVu Sans","labelFontStyle":"italic","labelFontWeight":"bold","labelFontSize":16,"labelColor":"#555555","labelPadding":4,"labelFlush":false,"labelOverlap":false}}}},
{"mark":{"type":"point","opacity":0},"data":{"values":[{"p":100},{"p":200},{"p":300},{"p":400},{"p":500},{"p":600},{"p":700},{"p":800},{"p":900},{"p":1000}]},
"encoding":{"y":{"field":"p","type":"quantitative","scale":{"type":"log","domain":[100,1000],"nice":false,"reverse":true},"axis":{"orient":"left","title":"気圧(hPa)","titleFont":"Noto Sans CJK JP","titleFontSize":38,"titleFontWeight":"bold","titleColor":"#000000","titleX":-95,"titleY":250,"titleAlign":"center","titleBaseline":"middle","format":"d","values":[100,200,300,400,500,600,700,800,900,1000],"grid":false,"domain":false,"tickColor":"#888888","tickSize":6,"tickWidth":1.5,"labelFont":"DejaVu Sans","labelFontStyle":"italic","labelFontWeight":"bold","labelFontSize":17,"labelColor":"#555555","labelPadding":2,"labelOverlap":false,"labelFlush":false}}}},
{"mark":{"type":"point","opacity":0},"data":{"values":[{"th":200},{"th":210},{"th":220},{"th":230},{"th":240},{"th":250},{"th":260},{"th":270},{"th":280},{"th":290}]},
"encoding":{"y":{"field":"th","type":"quantitative","scale":{"domain":[200,210,220,230,240,250,260,270,280,290],"range":[57,100,136,171,205,243,283,326,374,421],"nice":false,"zero":false},"axis":{"orient":"right","title":null,"values":[200,210,220,230,240,250,260,270,280,290],"grid":false,"domain":false,"tickColor":"#e08a9a","tickSize":5,"tickWidth":1.5,"labelFont":"DejaVu Sans","labelFontStyle":"italic","labelFontWeight":"bold","labelFontSize":17,"labelColor":"#555555","labelPadding":4,"labelOverlap":false,"labelFlush":false}}}},
{"layer":[
{"mark":{"type":"area","interpolate":"linear","fill":"#0a0a6a"},"data":{"values":[{"v":5,"lo":0.5,"hi":0.5},{"v":10,"lo":0,"hi":1}]},
"encoding":{"x":{"field":"v","type":"quantitative","axis":null,"scale":{"domain":[5,10,20,30,40,50,60,70,80,90,95,100],"range":[14,70,129,186,241,299,354,413,469,524,583,642],"nice":false,"zero":false}},"y":{"field":"lo","type":"quantitative","stack":null,"axis":null,"scale":{"domain":[0,1],"range":[505,525],"nice":false,"zero":false}},"y2":{"field":"hi"}}},
{"mark":{"type":"area","interpolate":"linear","fill":"#7d7d7d"},"data":{"values":[{"v":95,"lo":0,"hi":1},{"v":100,"lo":0.5,"hi":0.5}]},
"encoding":{"x":{"field":"v","type":"quantitative","axis":null},"y":{"field":"lo","type":"quantitative","stack":null,"axis":null},"y2":{"field":"hi"}}},
{"mark":{"type":"rect","strokeWidth":0.6,"stroke":"#666666"},"data":{"values":[{"lo":10,"hi":20,"c":"10–20"},{"lo":20,"hi":30,"c":"20–30"},{"lo":30,"hi":40,"c":"30–40"},{"lo":40,"hi":50,"c":"40–50"},{"lo":50,"hi":60,"c":"50–60"},{"lo":60,"hi":70,"c":"60–70"},{"lo":70,"hi":80,"c":"70–80"},{"lo":80,"hi":90,"c":"80–90"},{"lo":90,"hi":95,"c":"90–95"}]},
"encoding":{"x":{"field":"lo","type":"quantitative","axis":null},"x2":{"field":"hi"},"y":{"datum":0,"type":"quantitative","axis":null},"y2":{"datum":1},"fill":{"field":"c","type":"nominal","legend":null,"scale":{"domain":["10–20","20–30","30–40","40–50","50–60","60–70","70–80","80–90","90–95"],"range":["#22268f","#7676bb","#a5a6d8","#c9c9f2","#fdfd92","#fbb422","#fb8a0c","#fc5005","#cc0500"]}}}},
{"mark":{"type":"text","align":"center","baseline":"middle","font":"DejaVu Sans","fontStyle":"italic","fontWeight":"bold","fontSize":14,"fill":"#555555"},"data":{"values":[{"v":10},{"v":20},{"v":30},{"v":40},{"v":50},{"v":60},{"v":70},{"v":80},{"v":90},{"v":95}]},
"encoding":{"x":{"field":"v","type":"quantitative","axis":null},"y":{"datum":1.5,"type":"quantitative","axis":null},"text":{"field":"v","type":"quantitative"}}}
]}
]}
